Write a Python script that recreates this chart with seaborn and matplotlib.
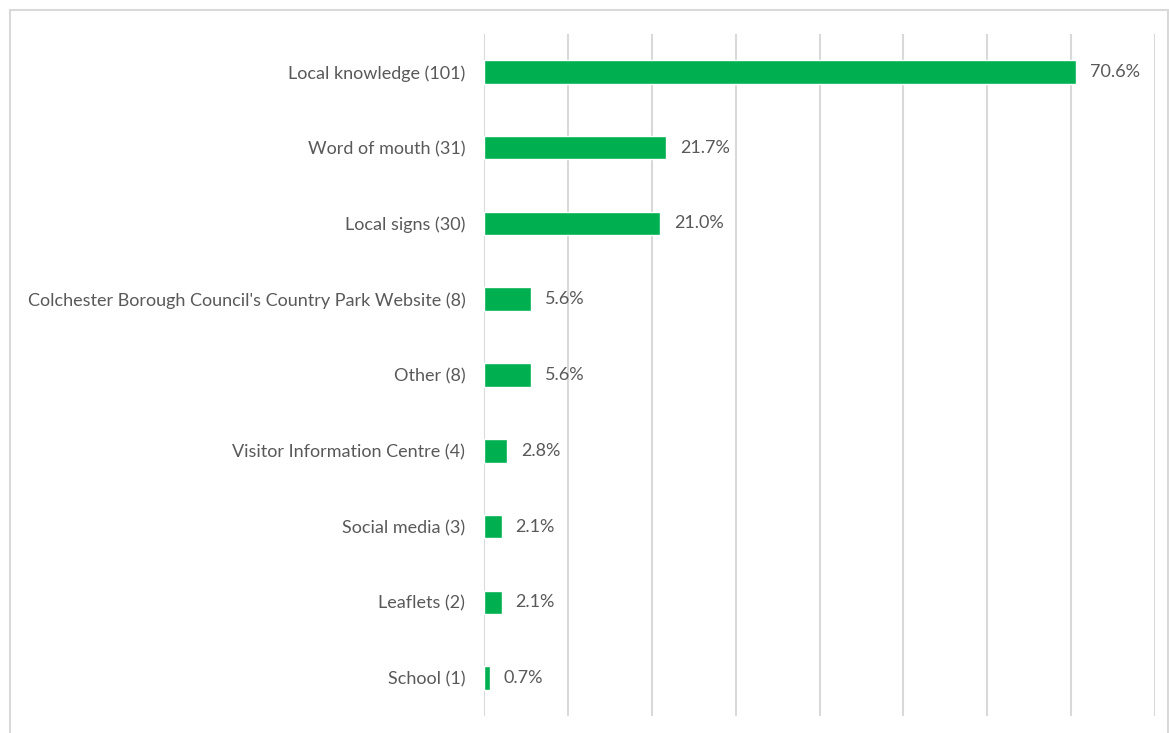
import matplotlib
matplotlib.use("Agg")
import matplotlib.pyplot as plt
import seaborn as sns
import pandas as pd
from matplotlib.patches import Rectangle

sources = [
    "Local knowledge (101)",
    "Word of mouth (31)",
    "Local signs (30)",
    "Colchester Borough Council's Country Park Website (8)",
    "Other (8)",
    "Visitor Information Centre (4)",
    "Social media (3)",
    "Leaflets (2)",
    "School (1)",
]
percent = [70.6, 21.7, 21.0, 5.6, 5.6, 2.8, 2.1, 2.1, 0.7]

df = pd.DataFrame({"source": sources, "percent": percent})

sns.set_theme(style="white")
plt.rcParams["font.family"] = ["Lato", "DejaVu Sans"]
text_color = "#595959"

fig = plt.figure(figsize=(11.69, 7.33), dpi=100)
ax = fig.add_axes([484 / 1169, 1 - 716 / 733, (1155 - 484) / 1169, (716 - 34) / 733])

sns.barplot(data=df, x="percent", y="source", orient="h", color="#00B050",
            width=0.31, saturation=1, ax=ax)

ax.set_xlim(0, 80)
ax.set_xticks(range(0, 81, 10))
ax.set_xticklabels([])
ax.tick_params(axis="x", length=0)
ax.tick_params(axis="y", length=0, pad=13.5, labelsize=13, labelcolor=text_color)
ax.grid(axis="x", color="#D9D9D9", linewidth=1.5)
ax.set_axisbelow(True)
for s in ax.spines.values():
    s.set_visible(False)
ax.set_xlabel("")
ax.set_ylabel("")

for c in ax.containers:
    ax.bar_label(c, labels=[f"{v:.1f}%" for v in percent], padding=10,
                 fontsize=13, color=text_color)

# outer frame
fig.patches.append(Rectangle((10 / 1169, -0.01), 1 - 11 / 1169, 1 - 10 / 733 + 0.01,
                             transform=fig.transFigure, fill=False,
                             edgecolor="#D9D9D9", linewidth=1.5))

fig.savefig("out.png", dpi=100)
